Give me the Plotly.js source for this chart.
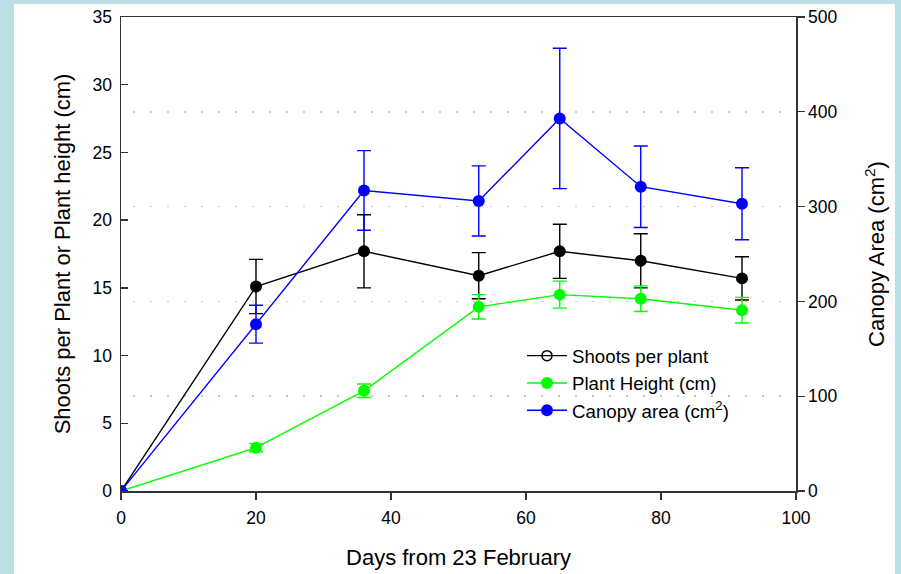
<!DOCTYPE html>
<html>
<head>
<meta charset="utf-8">
<script src="https://cdn.plot.ly/plotly-3.0.1.min.js"></script>
<style>
html,body{margin:0;padding:0;background:#bae0e4;}
#chart{width:901px;height:574px;}
</style>
</head>
<body>
<div id="chart"></div>
<script>
// Data
const days = [0, 20, 36, 53, 65, 77, 92];
const shoots = [0, 15.1, 17.7, 15.9, 17.7, 17.0, 15.7];
const shootsErr = [0, 2.0, 2.7, 1.7, 2.0, 2.0, 1.6];
const height = [0, 3.2, 7.4, 13.6, 14.5, 14.2, 13.35];
const heightErr = [0, 0.3, 0.5, 0.9, 1.0, 0.95, 0.95];
const canopy = [0, 176, 317, 306, 393, 321, 303];
const canopyErr = [0, 20, 42, 37, 74, 43, 38];

const names = ['Shoots per plant', 'Plant Height (cm)', 'Canopy area (cm<sup>2</sup>)'];
const xTicks = [0, 20, 40, 60, 80, 100];
const yTicks = [0, 5, 10, 15, 20, 25, 30, 35];
const y2Ticks = [0, 100, 200, 300, 400, 500];

const FONT = 'Liberation Sans';

function series(y, err, color, name, yaxis, showlegend) {
  return {
    x: days, y: y, name: name, type: 'scatter', mode: 'lines+markers',
    yaxis: yaxis, showlegend: showlegend,
    line: {color: color, width: 1.4},
    marker: {color: color, size: 12},
    error_y: {type: 'data', array: err, visible: true, color: color, thickness: 1.4, width: 7}
  };
}

const traces = [
  // legend entry for shoots (open circle, as in the reference legend)
  {x: [null], y: [null], name: names[0], type: 'scatter', mode: 'lines+markers',
   line: {color: '#000000', width: 1.4},
   marker: {color: '#000000', size: 10, symbol: 'circle-open', line: {width: 1.5, color: '#000000'}}},
  series(shoots, shootsErr, '#000000', names[0], 'y', false),
  series(height, heightErr, '#00ff00', names[1], 'y', true),
  series(canopy, canopyErr, '#0000ff', names[2], 'y2', true)
];

const L = 121, R = 796, T = 17, B = 491;
const W = R - L, H = B - T;

const layout = {
  width: 901, height: 574,
  margin: {l: L, r: 901 - R, t: T, b: 574 - B, pad: 0},
  paper_bgcolor: '#bae0e4',
  plot_bgcolor: 'rgba(0,0,0,0)',
  font: {family: FONT, color: '#000000', size: 17.5},
  showlegend: true,
  legend: {
    x: (522 - L) / W, y: (B - 337) / H, xanchor: 'left', yanchor: 'top',
    bgcolor: 'rgba(0,0,0,0)', font: {size: 18.7, family: FONT},
    itemwidth: 40, tracegroupgap: 0
  },
  xaxis: {
    range: [0, 100], tickvals: xTicks, ticktext: xTicks.map(String),
    showgrid: false, zeroline: false,
    showline: true, linecolor: '#333333', linewidth: 1.5, mirror: true,
    ticks: 'outside', ticklen: 7, tickcolor: '#333333', tickwidth: 1.3,
    ticklabelstandoff: 3,
    tickfont: {size: 17.5},
    title: {text: 'Days from 23 February', font: {size: 22}, standoff: 23}
  },
  yaxis: {
    range: [0, 35], tickvals: yTicks, ticktext: yTicks.map(String),
    showgrid: false, zeroline: false,
    showline: true, linecolor: '#333333', linewidth: 1.5,
    ticks: 'inside', ticklen: 7, tickcolor: '#333333', tickwidth: 1.3,
    ticklabelstandoff: 4,
    tickfont: {size: 17.5},
    title: {text: 'Shoots per Plant or Plant height (cm)', font: {size: 22}, standoff: 16}
  },
  yaxis2: {
    range: [0, 500], tickvals: y2Ticks, ticktext: y2Ticks.map(String),
    overlaying: 'y', side: 'right',
    showgrid: true, gridcolor: '#c8c8c8', gridwidth: 1.6, griddash: '0px,12px,2px,3px',
    zeroline: false,
    showline: true, linecolor: '#333333', linewidth: 1.5,
    ticks: 'outside', ticklen: 7, tickcolor: '#333333', tickwidth: 1.3,
    tickfont: {size: 17.5},
    title: {text: 'Canopy Area (cm<sup>2</sup>)', font: {size: 22}, standoff: 32}
  },
  shapes: [{
    type: 'rect', xref: 'paper', yref: 'paper', layer: 'below',
    x0: (14 - L) / W, x1: (895 - L) / W, y0: (B - 580) / H, y1: (B - 4) / H,
    fillcolor: '#ffffff', line: {width: 0}
  }]
};

Plotly.newPlot('chart', traces, layout, {displayModeBar: false, staticPlot: true});
</script>
</body>
</html>
